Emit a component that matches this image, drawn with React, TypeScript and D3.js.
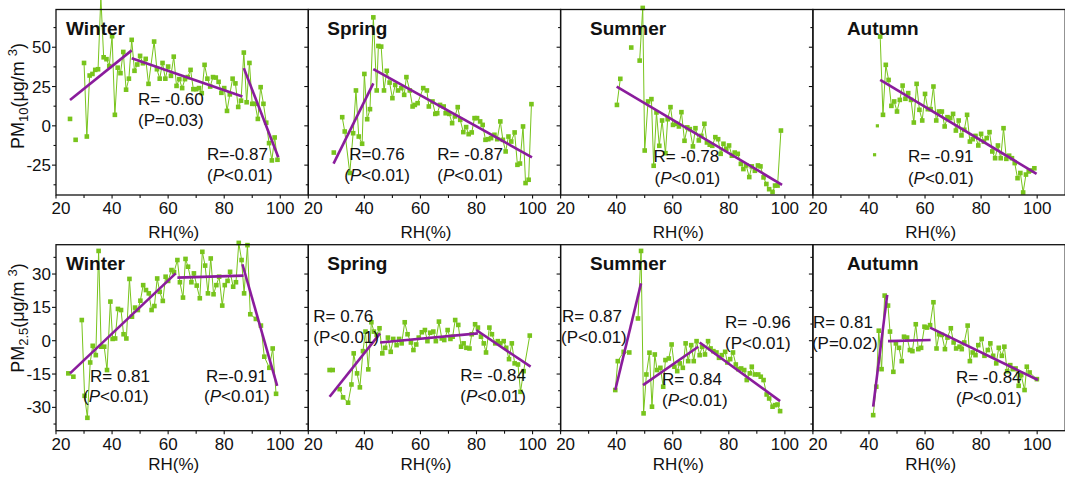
import React from 'react';
import * as d3 from 'd3';

type Pt = [number, number | null];
type Seg = [number, number, number, number];

const seasons = ['Winter', 'Spring', 'Summer', 'Autumn'];
const xTicks = [20, 40, 60, 80, 100];
const xMinor = [30, 50, 70, 90];
const pm10Ticks = [50, 25, 0, -25];
const pm10Minor = [62.5, 37.5, 12.5, -12.5, -37.5];
const pm25Ticks = [30, 15, 0, -15, -30];
const pm25Minor = [37.5, 22.5, 7.5, -7.5, -22.5, -37.5];

// ---------- PM10 (top row) ----------
const winterPm10: Pt[] = [[25,4.4],[26,null],[27,-8.9],[28,null],[30,40],[31,-6.8],[32,32],[33,33],[34,35.6],[35,36],[36,82],[37,43.6],[38,42.4],[39,38],[40,57],[41,7],[42,37],[43,33.5],[44,47],[45,23],[46,30],[47,54.7],[48,35],[49,39],[50,44.5],[51,39.8],[52,42.6],[53,26.7],[55,53.6],[56,36],[57,30],[58,40],[59,30],[60,37.7],[61,31.8],[62,44],[63,25.4],[64,29.7],[65,24],[66,29.7],[67,31],[68,35.6],[69,23.3],[70,23.3],[71,24],[72,20.8],[73,38.8],[74,30],[75,25],[76,31],[77,30.7],[78,28],[79,21],[80,24],[81,9.5],[82,20],[83,30],[84,27],[85,12],[86,16],[87,46.6],[88,15],[89,40],[90,14],[91,14],[92,4.4],[93,24.6],[94,14],[95,2],[96,-11],[97,-22],[98,-7.4],[99,-21.6]];
const springPm10: Pt[] = [[29.1,-17],[30,null],[32.1,5.5],[33,-3.6],[34.8,-30],[36,-4.7],[37,22.5],[38,-6.8],[39.2,-11.4],[40,33],[41,4.2],[42,10.6],[43.2,69],[44.4,22.5],[45,50.8],[46,50.4],[47,22.5],[48,35],[49,27.5],[50,17.6],[51,26],[52,22.5],[53.2,24],[54.2,19.7],[55,31],[56.2,22.5],[57.2,12.3],[58,13.3],[59,14.4],[61,24],[62.3,22.5],[63,12.3],[64.3,15.5],[65.3,7.6],[66,8],[67,13.3],[68.3,12.3],[69,8],[70.3,7.6],[71.3,1.7],[72.3,6],[73.3,11.9],[74.2,3.8],[75.3,-4],[76.3,-0.8],[77.2,-5.3],[78.3,-4.2],[79.3,4.9],[80.2,4.9],[81.3,2.8],[82.2,0.6],[83.2,-8.9],[84.2,-8.5],[85.2,-7.8],[86.4,-5.7],[87.4,-8.5],[88.5,2.8],[89.4,-8.9],[90.4,-16.3],[91.4,-6.8],[92.4,-10],[93.6,-4.2],[94.6,-24.8],[95.5,-24],[96.6,-0.4],[97.5,-36.4],[98.6,-34.3],[99.6,13.8]];
const summerPm10: Pt[] = [[40.1,13.3],[41.3,29.9],[43,null],[45.2,49.8],[47,null],[48.2,41.5],[49.3,75],[50,-15.7],[51.2,15.5],[52.4,17],[53.2,-25.4],[54.2,8.5],[55.2,-12.7],[56.2,3.4],[57.4,-17.4],[58.2,4.2],[59.2,11.9],[60.1,0.6],[61.2,1.3],[62.2,-0.4],[63.1,8.7],[64.2,-9.5],[65.2,-1],[66.1,-2.1],[67.2,-13.1],[68.1,-1.5],[69.3,-9.3],[70.2,-6.4],[71.3,1.3],[72.2,-10.6],[73.2,-12],[74.1,-12.7],[75.2,-7.2],[76.2,-8.5],[77.1,-17.8],[78.1,-11.4],[79.1,-14.6],[80.1,-12.5],[81.1,-19],[82.1,-17],[83.2,-17.8],[84.3,-24.2],[85.2,-27.5],[86.2,-25.2],[87.3,-32.6],[88.2,-25.8],[89.3,-28.6],[90.4,-25.2],[91.3,-25.8],[92.4,-32.8],[93.4,-37],[94.4,-40.3],[95.6,-42],[96.5,-38],[97.4,-38],[98.6,-3]];
const autumnPm10Extra: Pt[] = [[42,-18.4],[43,0]];
const autumnPm10: Pt[] = [[44,56.8],[45,7],[46,38.8],[47,29.2],[48,12.7],[49,15.5],[50,9.1],[51,16.5],[52,25.6],[53,17.2],[54,20.8],[55,16.5],[56,2.1],[57,26.7],[58,10.2],[59,3.4],[60,20.3],[61,10.6],[62,10.6],[63,25],[64,3.4],[65,9.1],[66,9.1],[67,-0.4],[68,5.5],[69,4.9],[70,7.6],[71,-3],[72,3.4],[73,-6.1],[74,-2.5],[75,7],[76,-10],[77,-8.5],[78,-6.4],[79,-12.5],[80,-5.1],[81,-10],[82,-7.8],[83,-4],[84,-16.3],[85,-20.6],[86,-12.5],[87,-20.6],[88,-1.5],[89,-21],[90,-19],[91,-20.6],[92,-23.7],[93,-33.3],[94,-30],[95,-42.4],[96,-31],[97,-29],[98,-28.4],[99,-27]];

const winterPm10Fit: Seg[] = [[25,16.5,47,48],[47,43,86.5,18.6],[87,36.7,99.3,-20]];
const springPm10Fit: Seg[] = [[29,-24,43.2,27],[43.2,36,99.8,-20]];
const summerPm10Fit: Seg[] = [[40,25,99,-37.5]];
const autumnPm10Fit: Seg[] = [[44,29.2,99.8,-30.5]];

// ---------- PM2.5 (bottom row) ----------
const winterPm25: Pt[] = [[24.4,-14.7],[26.2,-16.2],[27.5,null],[29.2,9.3],[30.2,-24.8],[31.2,-34.7],[32.2,-9.8],[33.1,-2.3],[34.2,-6.5],[35.2,40.4],[36.1,-2.7],[37.2,-2.7],[38.2,-13.2],[39.4,17.6],[40.2,0.8],[41.1,1],[42.1,14.3],[43.2,13.8],[44.1,2.9],[45.1,1],[46.2,27.8],[47.1,10.8],[48.2,14.9],[49.2,13.8],[50.1,18],[51.1,25],[52.1,22.8],[53.1,21.3],[54.1,13.8],[55.1,15.6],[56.1,28],[57,22],[58.1,17.9],[59.1,28.8],[60,26.9],[61.2,31.8],[62.1,30.8],[63.3,36.3],[64.2,26.3],[65.3,19.4],[66.2,36.8],[67.1,33.3],[68.3,26.3],[69.2,30.3],[70.2,24.8],[71.3,19.1],[72.2,40],[73.2,33.8],[74.2,21.3],[75.2,37],[76.2,20.9],[77.2,25],[78.2,28.8],[79.3,15.8],[80.2,25],[81.2,26.9],[82.1,31],[83.2,24.3],[84.2,26.3],[85.2,44],[86.2,36.3],[87.1,21.3],[88.3,43],[89.3,11.9],[91.3,9.8],[93.1,6.8],[94.3,-7.2],[96.1,-12.2],[97.3,-3.5],[98.5,-23.9]];
const springPm25: Pt[] = [[27.6,-13.2],[28.7,-13.2],[30,null],[31.2,-21.8],[32.4,-25.5],[34.2,-27.9],[35.4,-19.7],[36.2,-5.7],[37.4,-14.7],[38.4,-21],[39.5,-4.7],[40.4,4.1],[41.4,-12.9],[42.5,8.3],[43.4,4.1],[44.4,2.6],[45.4,5.6],[46.4,-5.7],[47.4,-3.2],[48.4,1.4],[49.4,-5],[50.3,0.8],[51.5,-2],[52.4,0.8],[53.3,-1.2],[54.4,8.3],[55.4,2.9],[56.6,-0.8],[57.5,-4.2],[58.5,-1.7],[59.4,1.4],[60.5,3.8],[61.6,4.8],[62.5,-0.2],[63.5,3.6],[64.6,4.1],[65.5,-0.2],[66.6,8.6],[67.6,1],[68.5,0.3],[69.7,4.8],[70.7,0.8],[71.5,1.8],[72.4,9.3],[73.5,7.1],[74.5,-2.7],[75.4,-1.2],[76.4,-3.2],[77.5,-3.5],[78.3,2.9],[79.5,7.4],[80.5,5.9],[81.6,1.8],[82.6,-1.2],[83.4,-5.3],[84.6,5.9],[85.5,2.9],[86.7,-1.2],[87.6,-0.2],[88.5,-1.2],[89.7,-0.2],[90.6,-3.2],[91.6,-8.3],[92.6,-1.2],[93.6,-10.2],[94.8,-10.7],[95.7,-23],[96.8,-13.7],[99,2.3]];
const summerPm25: Pt[] = [[39.5,-22.2],[40.4,-9.2],[42.5,-5],[44.5,-5.3],[46,null],[47.6,10],[48.7,40.4],[49.6,-32.7],[50.6,-15.2],[51.7,-5.4],[52.6,-29.7],[53.6,-6.2],[54.4,-13.2],[55.6,-12.2],[56.6,-20.7],[57.4,-8.7],[58.6,-8],[59.6,-1.7],[60.6,-11.7],[61.6,-13.7],[62.5,-10.2],[63.6,-12.2],[64.6,-1.2],[65.5,-9.2],[66.6,-2],[67.5,-9.2],[68.5,-0.2],[69.6,-6.5],[70.5,-2.7],[71.5,-6.2],[72.6,-0.2],[73.5,-3.5],[74.5,-4.7],[75.6,-5.3],[76.5,-7.7],[77.5,-6.5],[78.7,-5],[79.5,-9.8],[80.5,-8.3],[81.5,-5.3],[82.5,-10.7],[83.4,-12.8],[84.4,-12.5],[85.5,-13.2],[86.4,-17.7],[87.5,-14.7],[88.2,-11.7],[89.3,-15.2],[90.5,-15.2],[91.4,-16.2],[92.4,-17.7],[93.5,-24.2],[94.4,-26],[95.6,-29.7],[96.5,-29],[97.4,-28.7],[98.3,-31.7]];
const autumnPm25: Pt[] = [[41.5,-33.5],[42.6,-20.7],[43.5,4.5],[44.5,-12.8],[45.6,20.3],[46.8,15.8],[47.5,4.1],[48.7,-14],[49.6,-1.2],[50.7,-3.2],[51.7,-9.2],[52.5,1.8],[53.6,1.4],[54.6,-4.2],[55.5,-4.7],[56.7,7.4],[57.6,-3.8],[58.6,-3.2],[59.8,6.3],[60.7,5.9],[61.8,7],[63,17.3],[64.1,-3.5],[65,2.9],[66,2.6],[67.1,-3.8],[68,1.4],[69.2,5.6],[70.2,-0.8],[71.1,-3.5],[72.3,-2.7],[73.1,-3.8],[74,-0.8],[75.2,6.8],[76,-9.2],[77,-5.3],[78,-6.5],[79,-2],[80.2,0.8],[81.2,-6.8],[82.4,-4.2],[83.3,-1.2],[84.3,-6.8],[85.4,-10.2],[86.3,-3.2],[87.4,-6.8],[88.3,-2.7],[89.3,-13.7],[90.4,-11],[91.3,-12.8],[92.3,-12.5],[93.4,-20.3],[94.3,-15.5],[95.5,-22.2],[96.3,-11.7],[97.3,-14.3],[99.9,-17.3]];

const winterPm25Fit: Seg[] = [[25,-14.7,62.7,30.3],[63.3,28.4,86.9,29.3],[86.5,34.4,98.9,-20.3]];
const springPm25Fit: Seg[] = [[27.6,-25.2,45.6,3.3],[45.6,-0.8,80.5,3.3],[79.9,4.8,99.3,-11.7]];
const summerPm25Fit: Seg[] = [[39.5,-22.2,48.7,25.8],[49.4,-20,69.1,-2.7],[69.6,-0.8,98.3,-27.2]];
const autumnPm25Fit: Seg[] = [[41.5,-29.7,46.5,20.6],[46.8,-0.2,62,0.3],[61.8,5.9,100.3,-17.7]];

// annotation texts: [R label, P label, italic P]
type Note = [string, string, boolean];
const pm10Notes: Note[][] = [
  [['R= -0.60', '(P=0.03)', false], ['R=-0.87', '(P<0.01)', true]],
  [['R=0.76', '(P<0.01)', true], ['R= -0.87', '(P<0.01)', true]],
  [['R= -0.78', '(P<0.01)', true]],
  [['R= -0.91', '(P<0.01)', true]],
];
const pm25Notes: Note[][] = [
  [['R= 0.81', '(P<0.01)', true], ['R=-0.91', '(P<0.01)', true]],
  [['R= 0.76', '(P<0.01)', false], ['R= -0.84', '(P<0.01)', true]],
  [['R= 0.87', '(P<0.01)', false], ['R= -0.96', '(P<0.01)', false], ['R= 0.84', '(P<0.01)', true]],
  [['R= 0.81', '(P=0.02)', false], ['R= -0.84', '(P<0.01)', true]],
];

// ---------- layout (pixels) ----------
const W = 1065, H = 477;
const panelLeft = [56, 308.3, 560.6, 812.9];
const panelW = 252.3;
const FONT = 'Liberation Sans, Arial, Helvetica, sans-serif';
const GREEN = '#78c41c';
const PURPLE = '#8a1c9c';

// note positions [rx, ry, px, py] (x relative to panel left, y absolute)
const pm10NotePos = [
  [[82, 105, 82, 126], [151, 160, 151, 181]],
  [[41, 160, 36, 181], [129, 160, 129, 181]],
  [[93, 162, 94, 184]],
  [[95, 162, 95, 184]],
];
const pm25NotePos = [
  [[34, 382, 27, 402], [150, 382, 148, 402]],
  [[5, 322, 5, 343], [152, 381, 152, 402]],
  [[1.4, 322, 0.5, 343], [164.4, 328, 164.4, 349], [101.4, 385, 101.4, 406]],
  [[0, 328, -1, 349], [143, 383, 143, 404]],
];
const titleX = [10, 19, 29.5, 34];

const rows = [
  { top: 9.5, bottom: 195, domain: [-44, 74], ticks: pm10Ticks, minor: pm10Minor,
    data: [winterPm10, springPm10, summerPm10, autumnPm10],
    fits: [winterPm10Fit, springPm10Fit, summerPm10Fit, autumnPm10Fit],
    notes: pm10Notes, notePos: pm10NotePos, titleY: 35, tickY: 214, rhY: 238, label: 'pm10' },
  { top: 244.7, bottom: 430.7, domain: [-40.5, 43.2], ticks: pm25Ticks, minor: pm25Minor,
    data: [winterPm25, springPm25, summerPm25, autumnPm25],
    fits: [winterPm25Fit, springPm25Fit, summerPm25Fit, autumnPm25Fit],
    notes: pm25Notes, notePos: pm25NotePos, titleY: 270, tickY: 450, rhY: 470, label: 'pm25' },
];

function PLabel({ x, y, text, italic }: { x: number; y: number; text: string; italic: boolean }) {
  const rest = text.slice(2);
  return (
    <text x={x} y={y} fontSize={17} fontFamily={FONT} fill="#111">
      <tspan>(</tspan>
      <tspan fontStyle={italic ? 'italic' : 'normal'}>P</tspan>
      <tspan>{rest}</tspan>
    </text>
  );
}

function Panel({ row, i }: { row: typeof rows[number]; i: number }) {
  const left = panelLeft[i];
  const x = d3.scaleLinear().domain([20, 110]).range([left, left + panelW]);
  const y = d3.scaleLinear().domain(row.domain).range([row.bottom, row.top]);
  const data = row.data[i];
  const line = d3.line<Pt>()
    .defined((d) => d[1] != null)
    .x((d) => x(d[0]))
    .y((d) => y(d[1] as number));
  const pts = data.filter((d) => d[1] != null);
  const extra = row.label === 'pm10' && i === 3 ? autumnPm10Extra : [];
  return (
    <g>
      <path d={line(data) || ''} fill="none" stroke={GREEN} strokeWidth={1} />
      {pts.map((d, k) => (
        <rect key={k} x={x(d[0]) - 2.3} y={y(d[1] as number) - 2.3} width={4.6} height={4.6} fill={GREEN} />
      ))}
      {extra.map((d, k) => (
        <rect key={'e' + k} x={x(d[0]) - 1.6} y={y(d[1] as number) - 1.6} width={3.2} height={3.2} fill={GREEN} />
      ))}
      {row.fits[i].map((s, k) => (
        <line key={'f' + k} x1={x(s[0])} y1={y(s[1])} x2={x(s[2])} y2={y(s[3])} stroke={PURPLE} strokeWidth={2.6} />
      ))}
      <rect x={left} y={row.top} width={panelW} height={row.bottom - row.top} fill="none" stroke="#111" strokeWidth={1.3} />
      {row.ticks.map((t) => (
        <line key={'yt' + t} x1={left - 4} x2={left} y1={y(t)} y2={y(t)} stroke="#111" strokeWidth={1.1} />
      ))}
      {row.minor.map((t) => (
        <line key={'ym' + t} x1={left - 2.5} x2={left} y1={y(t)} y2={y(t)} stroke="#111" strokeWidth={1.1} />
      ))}
      {i === 0 && row.ticks.map((t) => (
        <text key={'yl' + t} x={left - 5} y={y(t)} dy="0.36em" textAnchor="end" fontSize={17} fontFamily={FONT} fill="#111">{t}</text>
      ))}
      {xTicks.map((t) => (
        <line key={'xt' + t} x1={x(t)} x2={x(t)} y1={row.bottom} y2={row.bottom + 3.5} stroke="#111" strokeWidth={1.1} />
      ))}
      {xMinor.map((t) => (
        <line key={'xm' + t} x1={x(t)} x2={x(t)} y1={row.bottom} y2={row.bottom + 3} stroke="#111" strokeWidth={1.1} />
      ))}
      {xTicks.map((t) => (
        <text key={'xl' + t} x={x(t) + (t === 20 ? 5 : 0)} y={row.tickY} textAnchor="middle" fontSize={17} fontFamily={FONT} fill="#111">{t}</text>
      ))}
      <text x={x(62)} y={row.rhY} textAnchor="middle" fontSize={17} fontFamily={FONT} fill="#111">RH(%)</text>
      <text x={left + titleX[i]} y={row.titleY} fontSize={19} fontWeight="bold" fontFamily={FONT} fill="#111">{seasons[i]}</text>
      {row.notes[i].map((n, k) => {
        const p = row.notePos[i][k];
        return (
          <g key={'n' + k}>
            <text x={left + p[0]} y={p[1]} fontSize={17} fontFamily={FONT} fill="#111">{n[0]}</text>
            <PLabel x={left + p[2]} y={p[3]} text={n[1]} italic={n[2]} />
          </g>
        );
      })}
    </g>
  );
}

export default function App() {
  return (
    <svg width={W} height={H} style={{ position: 'absolute', left: 0, top: 0, background: '#fff' }}>
      <rect x={0} y={0} width={W} height={H} fill="#fff" />
      {rows.map((row, r) => (
        <g key={r}>
          {seasons.map((_, i) => <Panel key={i} row={row} i={i} />)}
        </g>
      ))}
      <text transform="translate(24,96) rotate(-90)" textAnchor="middle" fontSize={18} fontFamily={FONT} fill="#111">
        PM<tspan fontSize={13} dy={4}>10</tspan><tspan dy={-4}>(μg/m </tspan><tspan fontSize={13} dy={-7}>3</tspan><tspan dy={7}>)</tspan>
      </text>
      <text transform="translate(24,318) rotate(-90)" textAnchor="middle" fontSize={18} fontFamily={FONT} fill="#111">
        PM<tspan fontSize={13} dy={4}>2.5</tspan><tspan dy={-4}>(μg/m </tspan><tspan fontSize={13} dy={-7}>3</tspan><tspan dy={7}>)</tspan>
      </text>
    </svg>
  );
}
